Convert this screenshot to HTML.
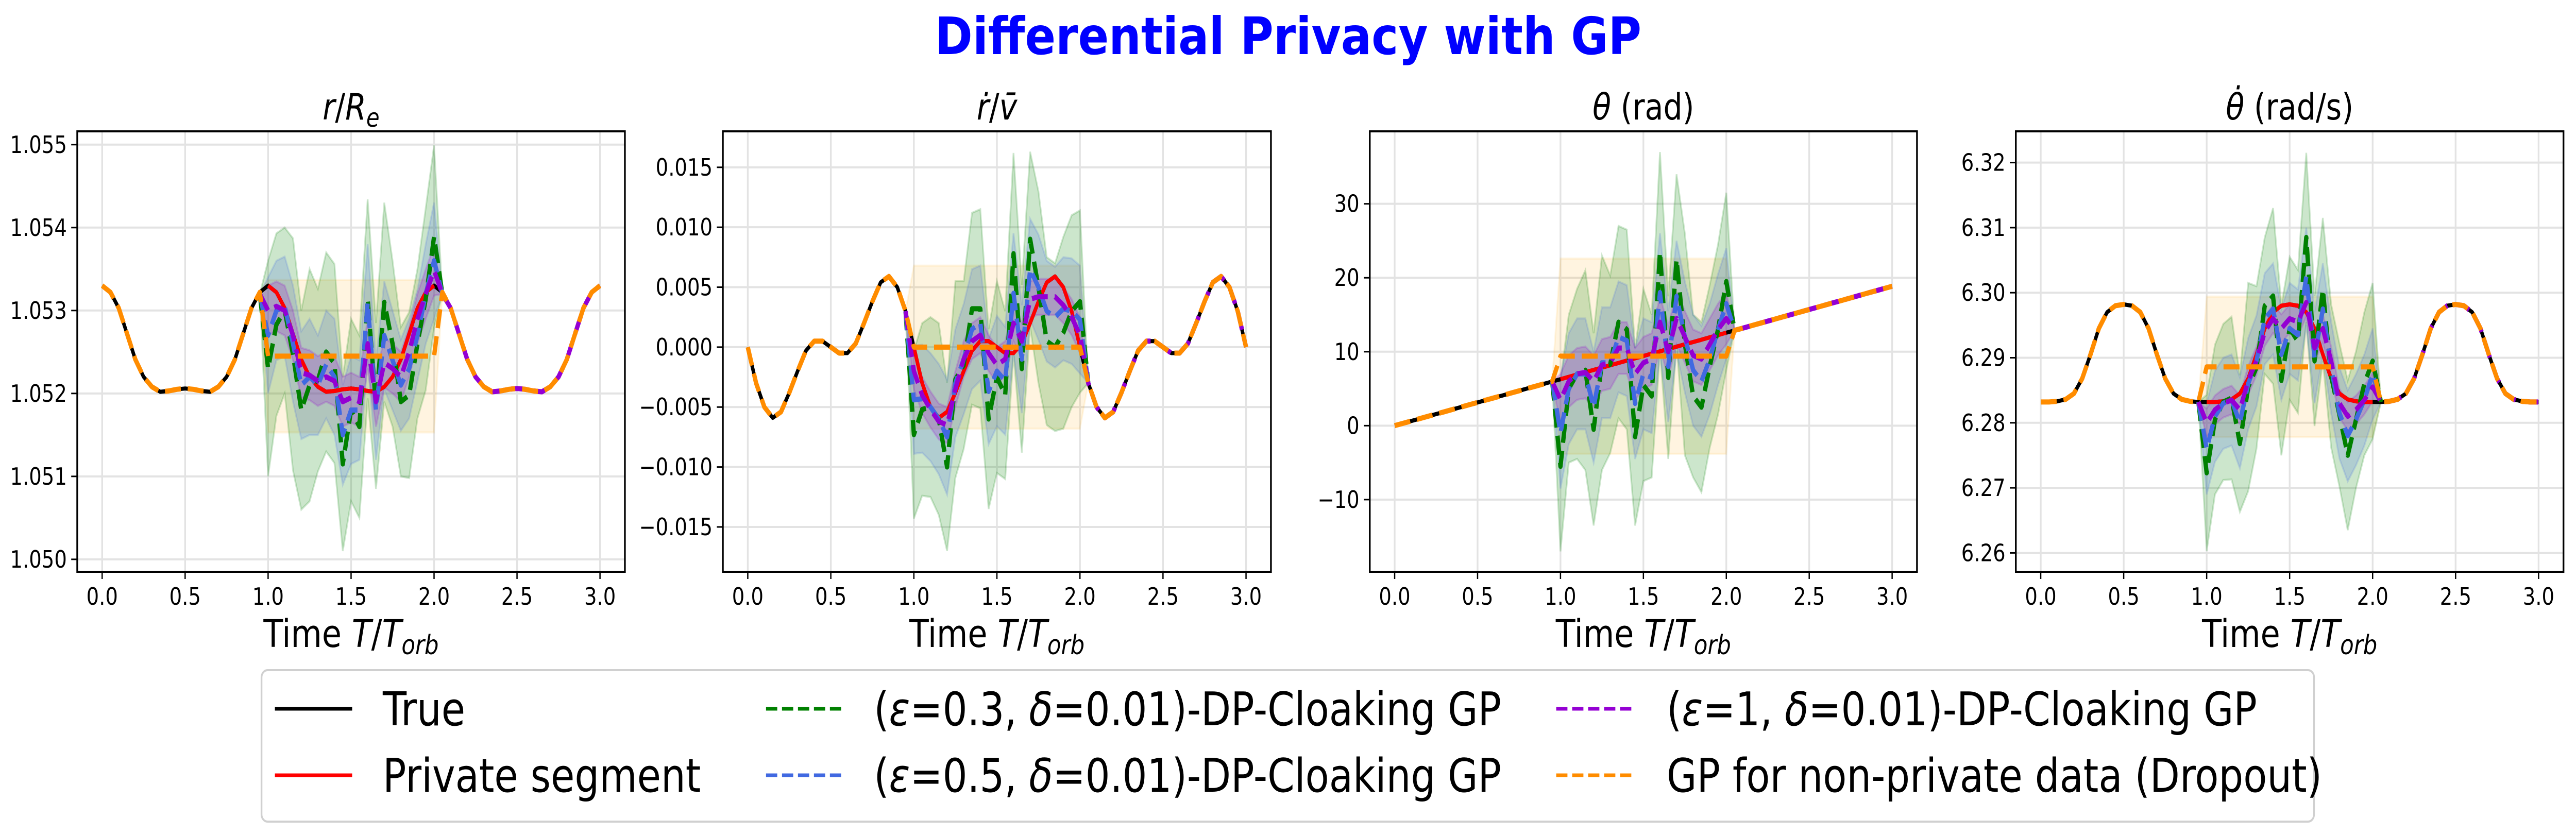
<!DOCTYPE html>
<html><head><meta charset="utf-8"><style>
html,body{margin:0;padding:0;background:#fff;width:100%;height:100%;overflow:hidden}
svg{display:block;width:100vw;height:100vh;font-family:"DejaVu Sans","Liberation Sans",sans-serif}
</style></head><body>
<svg id="chart" viewBox="0 0 5969 1621" preserveAspectRatio="none" xmlns="http://www.w3.org/2000/svg">
<rect width="5969" height="1621" fill="#fff"/>
<text x="2985" y="105" text-anchor="middle" font-size="100" font-weight="bold" fill="#0000ff" textLength="1637" lengthAdjust="spacingAndGlyphs">Differential Privacy with GP</text>
<g id="panels"></g>
<g id="legend">
<rect x="606" y="1301" width="4756" height="294" rx="14" fill="#fff" stroke="#d0d0d0" stroke-width="4"/>
<g><line x1="637" y1="1376" x2="816" y2="1376" stroke="#000" stroke-width="7"/><text x="887" y="1408" font-size="90">True</text></g>
<g><line x1="637" y1="1505" x2="816" y2="1505" stroke="#ff0000" stroke-width="7"/><text x="887" y="1537" font-size="90">Private segment</text></g>
<g><line x1="1775" y1="1376" x2="1950" y2="1376" stroke="#008000" stroke-width="7" stroke-dasharray="26,11"/><text x="2025" y="1408" font-size="90">(<tspan font-style="italic">ε</tspan>=0.3, <tspan font-style="italic">δ</tspan>=0.01)-DP-Cloaking GP</text></g>
<g><line x1="1775" y1="1505" x2="1950" y2="1505" stroke="#4169e1" stroke-width="7" stroke-dasharray="26,11"/><text x="2025" y="1537" font-size="90">(<tspan font-style="italic">ε</tspan>=0.5, <tspan font-style="italic">δ</tspan>=0.01)-DP-Cloaking GP</text></g>
<g><line x1="3606" y1="1376" x2="3784" y2="1376" stroke="#9400d3" stroke-width="7" stroke-dasharray="26,11"/><text x="3862" y="1408" font-size="90">(<tspan font-style="italic">ε</tspan>=1, <tspan font-style="italic">δ</tspan>=0.01)-DP-Cloaking GP</text></g>
<g><line x1="3606" y1="1505" x2="3784" y2="1505" stroke="#ff8c00" stroke-width="7" stroke-dasharray="26,11"/><text x="3862" y="1537" font-size="90">GP for non-private data (Dropout)</text></g>
</g>
</svg>
<script>
const tGrid=[0,0.05,0.1,0.15,0.2,0.25,0.3,0.35,0.4,0.45,0.5,0.55,0.6,0.65,0.7,0.75,0.8,0.85,0.9,0.95,1,1.05,1.1,1.15,1.2,1.25,1.3,1.35,1.4,1.45,1.5,1.55,1.6,1.65,1.7,1.75,1.8,1.85,1.9,1.95,2,2.05,2.1,2.15,2.2,2.25,2.3,2.35,2.4,2.45,2.5,2.55,2.6,2.65,2.7,2.75,2.8,2.85,2.9,2.95,3];
const xTicks=[0,0.5,1,1.5,2,2.5,3];
const xTickLabels=['0.0','0.5','1.0','1.5','2.0','2.5','3.0'];

const p1True=[1.0533,1.05322,1.05303,1.05272,1.05241,1.0522,1.05208,1.05202,1.05203,1.05205,1.05206,1.05205,1.05203,1.05202,1.05208,1.0522,1.05241,1.05272,1.05303,1.05322,1.0533,1.05322,1.05303,1.05272,1.05241,1.0522,1.05208,1.05202,1.05203,1.05205,1.05206,1.05205,1.05203,1.05202,1.05208,1.0522,1.05241,1.05272,1.05303,1.05322,1.0533,1.05322,1.05303,1.05272,1.05241,1.0522,1.05208,1.05202,1.05203,1.05205,1.05206,1.05205,1.05203,1.05202,1.05208,1.0522,1.05241,1.05272,1.05303,1.05322,1.0533];
const p1Green=[1.0532,1.0523,1.05283,1.0530,1.05247,1.0518,1.0521,1.05216,1.0525,1.05236,1.05115,1.0518,1.0516,1.05314,1.05185,1.0531,1.0526,1.0519,1.05198,1.0526,1.05314,1.05389,1.0532];
const p1GreenSd=[0,0.0013,0.0011,0.0010,0.0014,0.0012,0.0014,0.0011,0.0012,0.0012,0.00105,0.0011,0.0011,0.0012,0.0010,0.0012,0.0010,0.0009,0.0010,0.0009,0.0011,0.0011,0];
const p1Blue=[1.0532,1.0527,1.0530,1.05305,1.0526,1.0521,1.0522,1.0521,1.05235,1.0522,1.0515,1.0518,1.0518,1.0531,1.0518,1.0527,1.0524,1.0521,1.0523,1.0527,1.0532,1.0536,1.0532];
const p1BlueSd=[0,0.0007,0.0006,0.0006,0.0007,0.00065,0.0007,0.0006,0.00065,0.0007,0.0006,0.00065,0.0006,0.0007,0.0006,0.00065,0.0006,0.00055,0.0006,0.00055,0.0006,0.0007,0];
const p1Purple=[1.0532,1.0530,1.05305,1.0530,1.0527,1.05225,1.05222,1.05215,1.0522,1.05215,1.0519,1.05195,1.0519,1.0526,1.0519,1.05237,1.0523,1.0522,1.0525,1.0529,1.0532,1.05348,1.0532];
const p1PurpleSd=[0,0.0003,0.0003,0.0003,0.0003,0.0003,0.0003,0.0003,0.0003,0.0003,0.0003,0.0003,0.0003,0.0003,0.0003,0.0003,0.0003,0.0003,0.0003,0.0003,0.0003,0.0003,0];
const p1DropMean=1.05245, p1DropSd=0.00092;
const p1YTicks=[1.050,1.051,1.052,1.053,1.054,1.055];
const p1YTickLabels=['1.050','1.051','1.052','1.053','1.054','1.055'];

const p2True=[0,-0.003,-0.005,-0.0059,-0.0054,-0.0038,-0.002,-0.0003,0.0005,0.0005,0,-0.0005,-0.0005,0.0003,0.002,0.0038,0.0054,0.0059,0.005,0.003,0,-0.003,-0.005,-0.0059,-0.0054,-0.0038,-0.002,-0.0003,0.0005,0.0005,0,-0.0005,-0.0005,0.0003,0.002,0.0038,0.0054,0.0059,0.005,0.003,0,-0.003,-0.005,-0.0059,-0.0054,-0.0038,-0.002,-0.0003,0.0005,0.0005,0,-0.0005,-0.0005,0.0003,0.002,0.0038,0.0054,0.0059,0.005,0.003,0];
const p2Green=[0.003,-0.0073,-0.0052,-0.005,-0.006,-0.010,-0.0027,-0.0015,0.0032,0.0032,-0.006,-0.0025,-0.004,0.0078,-0.0018,0.009,0.005,0.0005,0.0,0.0012,0.003,0.0038,-0.003];
const p2GreenSd=[0,0.007,0.0072,0.0075,0.008,0.007,0.0082,0.007,0.008,0.0083,0.0075,0.008,0.007,0.0084,0.007,0.0073,0.008,0.007,0.007,0.008,0.008,0.0076,0];
const p2Blue=[0.003,-0.0044,-0.0043,-0.005,-0.006,-0.0075,-0.003,-0.001,0.0015,0.002,-0.0037,-0.002,-0.0028,0.0045,-0.001,0.0065,0.005,0.003,0.0025,0.0032,0.003,0.0023,-0.003];
const p2BlueSd=[0,0.0045,0.0045,0.0045,0.0046,0.0048,0.0045,0.0046,0.005,0.0048,0.0044,0.0046,0.0045,0.005,0.0045,0.0042,0.0044,0.0042,0.0042,0.0043,0.0044,0.0045,0];
const p2Purple=[0.003,-0.002,-0.004,-0.0052,-0.0062,-0.0065,-0.0035,-0.001,0.0005,0.001,-0.0005,-0.0015,-0.001,0.002,0.0005,0.004,0.0042,0.0042,0.0042,0.0035,0.0025,0.001,-0.003];
const p2PurpleSd=[0,0.0015,0.0015,0.0015,0.0015,0.0015,0.0015,0.0015,0.0015,0.0015,0.0015,0.0015,0.0015,0.0015,0.0015,0.0015,0.0015,0.0015,0.0015,0.0015,0.0015,0.0015,0];
const p2DropMean=0, p2DropSd=0.0068;
const p2YTicks=[-0.015,-0.01,-0.005,0,0.005,0.01,0.015];
const p2YTickLabels=['\u22120.015','\u22120.010','\u22120.005','0.000','0.005','0.010','0.015'];

const p3True=[0,0.31,0.63,0.94,1.26,1.57,1.88,2.2,2.51,2.83,3.14,3.46,3.77,4.08,4.4,4.71,5.03,5.34,5.65,5.97,6.28,6.6,6.91,7.23,7.54,7.85,8.17,8.48,8.8,9.11,9.42,9.74,10.05,10.37,10.68,11.0,11.31,11.62,11.94,12.25,12.57,12.88,13.19,13.51,13.82,14.14,14.45,14.77,15.08,15.39,15.71,16.02,16.34,16.65,16.96,17.28,17.59,17.91,18.22,18.54,18.85];
const p3Green=[5.97,-5.5,5,7,7.5,-0.5,8.5,8.3,14,13,-1.5,5.5,4,23.5,6.5,22.5,11,4,2.5,8,13,19.5,12.88];
const p3GreenSd=[0,11.5,10,11.5,13.5,13,14.5,12,13,13.5,12,13,11,13.5,11,11.5,15,11,11.5,11,11.5,12,0];
const p3Blue=[5.97,-1,5,7,7,2.5,8.5,8.5,12,11.5,3,7,6.5,18,8,17.5,12,7.5,6,9,13,16.5,12.88];
const p3BlueSd=[0,7.5,7.5,7.5,7.5,7.5,7.5,7.5,7.5,7.5,7.5,7.5,7.5,8,7.5,7.5,7.5,7.5,7.5,7.5,7.5,7.5,0];
const p3Purple=[5.97,3.5,6,7,7.2,6,8.2,8.5,10.5,10.5,7,8.5,9,14,10,14.5,12,9.5,9,11,13,14.5,12.88];
const p3PurpleSd=[0,3.5,3.5,3.5,3.5,3.5,3.5,3.5,3.5,3.5,3.5,3.5,3.5,3.5,3.5,3.5,3.5,3.5,3.5,3.5,3.5,3.5,0];
const p3DropMean=9.4, p3DropSd=13.2;
const p3YTicks=[-10,0,10,20,30];
const p3YTickLabels=['\u221210','0','10','20','30'];

const p4True=[6.2832,6.2832,6.2833,6.2836,6.2845,6.2868,6.2905,6.2945,6.2970,6.2980,6.2982,6.2980,6.2970,6.2945,6.2905,6.2868,6.2845,6.2836,6.2833,6.2832,6.2832,6.2832,6.2833,6.2836,6.2845,6.2868,6.2905,6.2945,6.2970,6.2980,6.2982,6.2980,6.2970,6.2945,6.2905,6.2868,6.2845,6.2836,6.2833,6.2832,6.2832,6.2832,6.2833,6.2836,6.2845,6.2868,6.2905,6.2945,6.2970,6.2980,6.2982,6.2980,6.2970,6.2945,6.2905,6.2868,6.2845,6.2836,6.2833,6.2832,6.2832];
const p4Green=[6.2832,6.2723,6.2805,6.2832,6.2838,6.2768,6.2855,6.2885,6.2980,6.2995,6.2865,6.2945,6.2925,6.3085,6.2895,6.3005,6.2872,6.2812,6.2750,6.2805,6.2860,6.2895,6.2832];
const p4GreenSd=[0,0.012,0.0115,0.012,0.0125,0.0105,0.016,0.0125,0.0105,0.0135,0.0115,0.011,0.011,0.013,0.010,0.011,0.011,0.011,0.0115,0.0105,0.011,0.012,0];
const p4Blue=[6.2832,6.2760,6.2810,6.2830,6.2835,6.2800,6.2860,6.2895,6.2960,6.2975,6.2905,6.2945,6.2935,6.3025,6.2900,6.2975,6.2885,6.2815,6.2780,6.2805,6.2835,6.2875,6.2832];
const p4BlueSd=[0,0.007,0.007,0.007,0.007,0.007,0.007,0.007,0.007,0.007,0.007,0.007,0.007,0.0075,0.007,0.007,0.007,0.007,0.007,0.007,0.007,0.007,0];
const p4Purple=[6.2832,6.2800,6.2820,6.2830,6.2835,6.2820,6.2865,6.2895,6.2940,6.2960,6.2945,6.2960,6.2955,6.2985,6.2915,6.2945,6.2895,6.2830,6.2810,6.2820,6.2835,6.2855,6.2832];
const p4PurpleSd=[0,0.0022,0.0022,0.0022,0.0022,0.0022,0.0022,0.0022,0.0022,0.0022,0.0022,0.0022,0.0022,0.0022,0.0022,0.0022,0.0022,0.0022,0.0022,0.0022,0.0022,0.0022,0];
const p4DropMean=6.2886, p4DropSd=0.0108;
const p4YTicks=[6.26,6.27,6.28,6.29,6.30,6.31,6.32];
const p4YTickLabels=['6.26','6.27','6.28','6.29','6.30','6.31','6.32'];

const NS='http://www.w3.org/2000/svg';
const root=document.getElementById('panels');
function mk(tag,attrs,parent){const e=document.createElementNS(NS,tag);for(const k in attrs)e.setAttribute(k,attrs[k]);parent.appendChild(e);return e;}

const layouts=[
 {id:'r',left:179,right:1448,ymin:1.04985,ymax:1.05516,title:'r'},
 {id:'rdot',left:1675,right:2945,ymin:-0.01874,ymax:0.0180,title:'rdot'},
 {id:'theta',left:3174,right:4442,ymin:-19.76,ymax:39.8,title:'theta'},
 {id:'thetadot',left:4671,right:5940,ymin:6.2571,ymax:6.3248,title:'thetadot'}
];
const datasets=[
 {tr:p1True,g:p1Green,gs:p1GreenSd,b:p1Blue,bs:p1BlueSd,p:p1Purple,ps:p1PurpleSd,dm:p1DropMean,ds:p1DropSd,yt:p1YTicks,yl:p1YTickLabels},
 {tr:p2True,g:p2Green,gs:p2GreenSd,b:p2Blue,bs:p2BlueSd,p:p2Purple,ps:p2PurpleSd,dm:p2DropMean,ds:p2DropSd,yt:p2YTicks,yl:p2YTickLabels},
 {tr:p3True,g:p3Green,gs:p3GreenSd,b:p3Blue,bs:p3BlueSd,p:p3Purple,ps:p3PurpleSd,dm:p3DropMean,ds:p3DropSd,yt:p3YTicks,yl:p3YTickLabels},
 {tr:p4True,g:p4Green,gs:p4GreenSd,b:p4Blue,bs:p4BlueSd,p:p4Purple,ps:p4PurpleSd,dm:p4DropMean,ds:p4DropSd,yt:p4YTicks,yl:p4YTickLabels}
];
const TOP=255,BOT=1110,P0=19,P1=41;

layouts.forEach((L,pi)=>{
 const D=datasets[pi];
 const g=mk('g',{},root);
 
 
 const sx=t=>L.left+(t+0.15)/3.3*(L.right-L.left);
 const sy=v=>BOT-(v-L.ymin)/(L.ymax-L.ymin)*(BOT-TOP);
 const cid='clip'+pi;
 const cp=mk('clipPath',{id:cid},g);
 mk('rect',{x:L.left,y:TOP,width:L.right-L.left,height:BOT-TOP},cp);
 xTicks.forEach(t=>{const l=mk('line',{x1:sx(t),x2:sx(t),y1:TOP,y2:BOT,stroke:'#e3e3e3','stroke-width':4},g);
  });
 D.yt.forEach(v=>{const l=mk('line',{x1:L.left,x2:L.right,y1:sy(v),y2:sy(v),stroke:'#e3e3e3','stroke-width':4},g);
  });
 const plot=mk('g',{'clip-path':'url(#'+cid+')'},g);
 const tP=tGrid.slice(P0,P1+1);
 function band(mean,sd,fill,stroke,name){
  let pts=[];
  for(let i=0;i<mean.length;i++)pts.push(sx(tP[i])+','+sy(mean[i]+sd[i]));
  for(let i=mean.length-1;i>=0;i--)pts.push(sx(tP[i])+','+sy(mean[i]-sd[i]));
  const e=mk('polygon',{points:pts.join(' '),fill:fill,stroke:stroke,'stroke-width':4},plot);
  
  
 }
 const dmArr=[],dsArr=[];
 for(let i=P0;i<=P1;i++){const inside=i>P0&&i<P1;dmArr.push(inside?D.dm:D.tr[i]);dsArr.push(inside?D.ds:0);}
 band(dmArr,dsArr,'rgba(255,165,0,0.12)','rgba(255,165,0,0.1)','dropout-band');
 band(D.g,D.gs,'rgba(0,128,0,0.2)','rgba(0,128,0,0.18)','eps03-band');
 band(D.b,D.bs,'rgba(65,105,225,0.2)','rgba(65,105,225,0.18)','eps05-band');
 band(D.p,D.ps,'rgba(148,0,211,0.2)','rgba(148,0,211,0.18)','eps1-band');
 function line(ts,vs,color,w,dash,name){
  const d=ts.map((t,i)=>(i?'L':'M')+sx(t).toFixed(1)+','+sy(vs[i]).toFixed(1)).join('');
  const a={d:d,fill:'none',stroke:color,'stroke-width':w,'stroke-linejoin':'round'};
  if(dash)a['stroke-dasharray']=dash;
  const e=mk('path',a,plot);
  
  
 }
 line(tGrid,D.tr,'#000',8,null,'true-line');
 line(tGrid.slice(20,41),D.tr.slice(20,41),'#ff0000',8,null,'private-segment-line');
 line(tP,D.g,'#008000',10,'37,16','eps03-line');
 line(tP,D.b,'#4169e1',10,'37,16','eps05-line');
 line(tGrid.slice(P0),D.p.concat(D.tr.slice(P1+1)),'#9400d3',10,'37,16','eps1-line');
 const dropVals=D.tr.map((v,i)=>(i>=20&&i<=40)?D.dm:v);
 line(tGrid,dropVals,'#ff8c00',10,'37,16','dropout-line');
 const fr=mk('rect',{x:L.left,y:TOP,width:L.right-L.left,height:BOT-TOP,fill:'none',stroke:'#000','stroke-width':4},g);
 
 xTicks.forEach((t,i)=>{
  mk('line',{x1:sx(t),x2:sx(t),y1:BOT,y2:BOT+14,stroke:'#000','stroke-width':3},g);
  const tx=mk('text',{x:sx(t),y:1174,'text-anchor':'middle','font-size':46},g);
  
  tx.textContent=xTickLabels[i];
 });
 D.yt.forEach((v,i)=>{
  mk('line',{x1:L.left-14,x2:L.left,y1:sy(v),y2:sy(v),stroke:'#000','stroke-width':3},g);
  const tx=mk('text',{x:L.left-24,y:sy(v)+16,'text-anchor':'end','font-size':46},g);
  
  tx.textContent=D.yl[i];
 });
 const cx=(L.left+L.right)/2;
 const xl=mk('text',{x:cx,y:1256,'text-anchor':'middle','font-size':74},g);
 
 xl.innerHTML='Time <tspan font-style="italic">T</tspan>/<tspan font-style="italic">T</tspan><tspan font-style="italic" font-size="52" dy="14">orb</tspan>';
 const tt=mk('text',{x:cx,y:232,'text-anchor':'middle','font-size':70},g);
 
 if(L.title==='r')tt.innerHTML='<tspan font-style="italic">r</tspan>/<tspan font-style="italic">R</tspan><tspan font-style="italic" font-size="50" dy="14">e</tspan>';
 else if(L.title==='rdot')tt.innerHTML='<tspan font-style="italic">\u1E59</tspan>/<tspan font-style="italic">v\u0304</tspan>';
 else if(L.title==='theta')tt.innerHTML='<tspan font-style="italic">\u03B8</tspan> (rad)';
 else tt.innerHTML='<tspan font-style="italic">\u03B8\u0307</tspan> (rad/s)';
});
</script>
</body></html>
